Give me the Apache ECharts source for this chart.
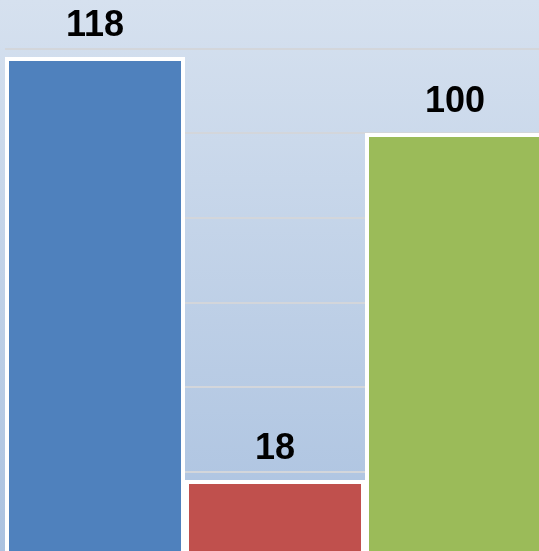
<!DOCTYPE html>
<html>
<head>
<meta charset="utf-8">
<script src="https://cdn.jsdelivr.net/npm/echarts@6/dist/echarts.min.js"></script>
<style>
  html, body { margin: 0; padding: 0; }
  #chart { width: 539px; height: 551px; }
</style>
</head>
<body>
<div id="chart"></div>
<script>
// Three categories, one value each
const categories = ['A', 'B', 'C'];
const values = [118, 18, 100];
const barColors = ['#4f81bd', '#c0504d', '#9bbb59'];

// Value axis range and step
const axisMin = 0;
const axisMax = 120;
const axisStep = 20;

const chart = echarts.init(document.getElementById('chart'), null, { renderer: 'canvas' });

chart.setOption({
  animation: false,
  backgroundColor: new echarts.graphic.LinearGradient(0, 0, 0, 1, [
    { offset: 0, color: '#d6e1ef' },
    { offset: 1, color: '#abc2e0' }
  ]),
  grid: {
    left: 5, right: -6, top: 48.5, bottom: -5,
    containLabel: false,
    outerBoundsMode: 'none'
  },
  xAxis: {
    type: 'category',
    data: categories,
    axisLine: { show: false },
    axisTick: { show: false },
    axisLabel: { show: false }
  },
  yAxis: {
    type: 'value',
    min: axisMin,
    max: axisMax,
    interval: axisStep,
    axisLine: { show: false },
    axisTick: { show: false },
    axisLabel: { show: false },
    splitLine: { lineStyle: { color: '#d3d6db', width: 2 } }
  },
  series: [{
    type: 'bar',
    barCategoryGap: '0%',
    barWidth: '100%',
    data: values.map((v, i) => ({ value: v, itemStyle: { color: barColors[i] } })),
    itemStyle: { borderColor: '#ffffff', borderWidth: 4 },
    label: {
      show: true,
      position: 'top',
      distance: 13,
      color: '#000000',
      fontFamily: 'Liberation Sans, Arial, sans-serif',
      fontWeight: 'bold',
      fontSize: 36
    }
  }]
});
</script>
</body>
</html>
